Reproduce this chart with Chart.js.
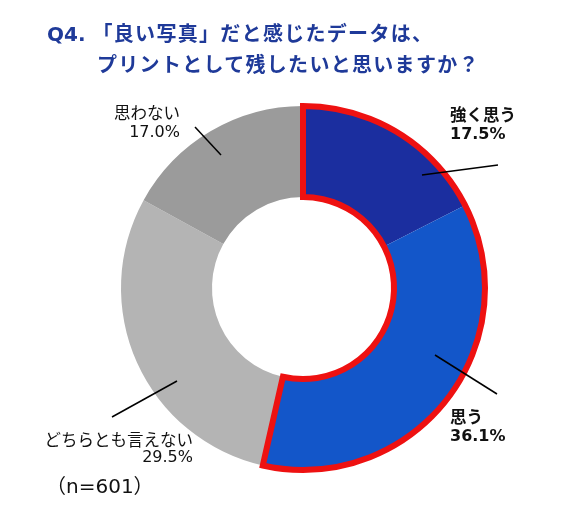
<!DOCTYPE html>
<html lang="ja">
<head>
<meta charset="UTF-8">
<title>Q4 プリント</title>
<style>
  * { margin: 0; padding: 0; box-sizing: border-box; }
  html, body { width: 583px; height: 516px; background: #fff; overflow: hidden; }
  body { position: relative; font-family: "Noto Sans CJK JP", "Noto Sans", sans-serif; }
  .title { position: absolute; color: #1f3a99; font-weight: bold; font-size: 20px; line-height: 29px; white-space: nowrap; letter-spacing: 1.3px; }
  .title .l1 { padding-left: 47px; }
  .title .l2 { padding-left: 97px; }
  .title .q { font-family: "DejaVu Sans", sans-serif; letter-spacing: 0; }
  .n { position: absolute; left: 46px; top: 470px; font-size: 20px; color: #111; }
  .n .d { font-family: "DejaVu Sans", sans-serif; }
  .wrap { position: absolute; left: 0; top: 0; width: 583px; height: 516px; }
</style>
<script src="https://cdn.jsdelivr.net/npm/chart.js"></script>
</head>
<body>
<div class="wrap"><canvas id="c" width="583" height="516"></canvas></div>
<div class="title" style="top:18px;">
  <div class="l1"><span class="q">Q4. </span>「良い写真」だと感じたデータは、</div>
  <div class="l2">プリントとして残したいと思いますか？</div>
</div>
<div class="n">（<span class="d">n=601</span>）</div>
<script>
const labels = ['強く思う', '思う', 'どちらとも言えない', '思わない'];
const values = [17.5, 36.1, 29.5, 17.0];
const colors = ['#1b2e9f', '#1356c9', '#b4b4b4', '#9b9b9b'];

// label placement relative to chart centre (px): line start, line end, text anchor
const labelLayout = [
  { from: [119, -113], to: [195, -123], text: [147, -173], align: 'left', bold: true },
  { from: [132, 67], to: [194, 106], text: [147, 129], align: 'left', bold: true },
  { from: [-126, 93], to: [-191, 129], text: [-110, 152], align: 'right', bold: false, gap: 18 },
  { from: [-82, -133], to: [-108, -161], text: [-123, -175], align: 'right', bold: false }
];

const outlinePlugin = {
  id: 'outline',
  afterDatasetsDraw(chart) {
    const arcs = chart.getDatasetMeta(0).data;
    const a = arcs[0], b = arcs[1];
    const ctx = chart.ctx;
    ctx.save();
    ctx.beginPath();
    ctx.arc(a.x, a.y, a.outerRadius, a.startAngle, b.endAngle);
    ctx.arc(a.x, a.y, a.innerRadius, b.endAngle, a.startAngle, true);
    ctx.closePath();
    ctx.lineWidth = 6;
    ctx.lineJoin = 'miter';
    ctx.strokeStyle = '#ee1111';
    ctx.stroke();
    ctx.restore();
  }
};

const labelPlugin = {
  id: 'sliceLabels',
  afterDraw(chart) {
    const arcs = chart.getDatasetMeta(0).data;
    const cx = arcs[0].x, cy = arcs[0].y;
    const ctx = chart.ctx;
    ctx.save();
    labelLayout.forEach((l, i) => {
      ctx.beginPath();
      ctx.moveTo(cx + l.from[0], cy + l.from[1]);
      ctx.lineTo(cx + l.to[0], cy + l.to[1]);
      ctx.lineWidth = 1.5;
      ctx.strokeStyle = '#000';
      ctx.stroke();
      ctx.fillStyle = '#111';
      const w = l.bold ? 'bold ' : '';
      ctx.textAlign = l.align;
      ctx.textBaseline = 'middle';
      const tx = cx + l.text[0], ty = cy + l.text[1];
      ctx.font = w + '16.5px "Noto Sans CJK JP", sans-serif';
      ctx.fillText(labels[i], tx, ty);
      ctx.font = w + '16px "DejaVu Sans", sans-serif';
      ctx.fillText(values[i].toFixed(1) + '%', tx, ty + (l.gap || 20));
    });
    ctx.restore();
  }
};

new Chart(document.getElementById('c'), {
  type: 'doughnut',
  data: {
    labels: labels,
    datasets: [{
      data: values,
      backgroundColor: colors,
      borderWidth: 0
    }]
  },
  options: {
    responsive: false,
    animation: false,
    cutout: '50%',
    layout: { padding: { top: 106, bottom: 46, left: 121, right: 98 } },
    plugins: {
      legend: { display: false },
      tooltip: { enabled: false }
    }
  },
  plugins: [outlinePlugin, labelPlugin]
});
</script>
</body>
</html>
